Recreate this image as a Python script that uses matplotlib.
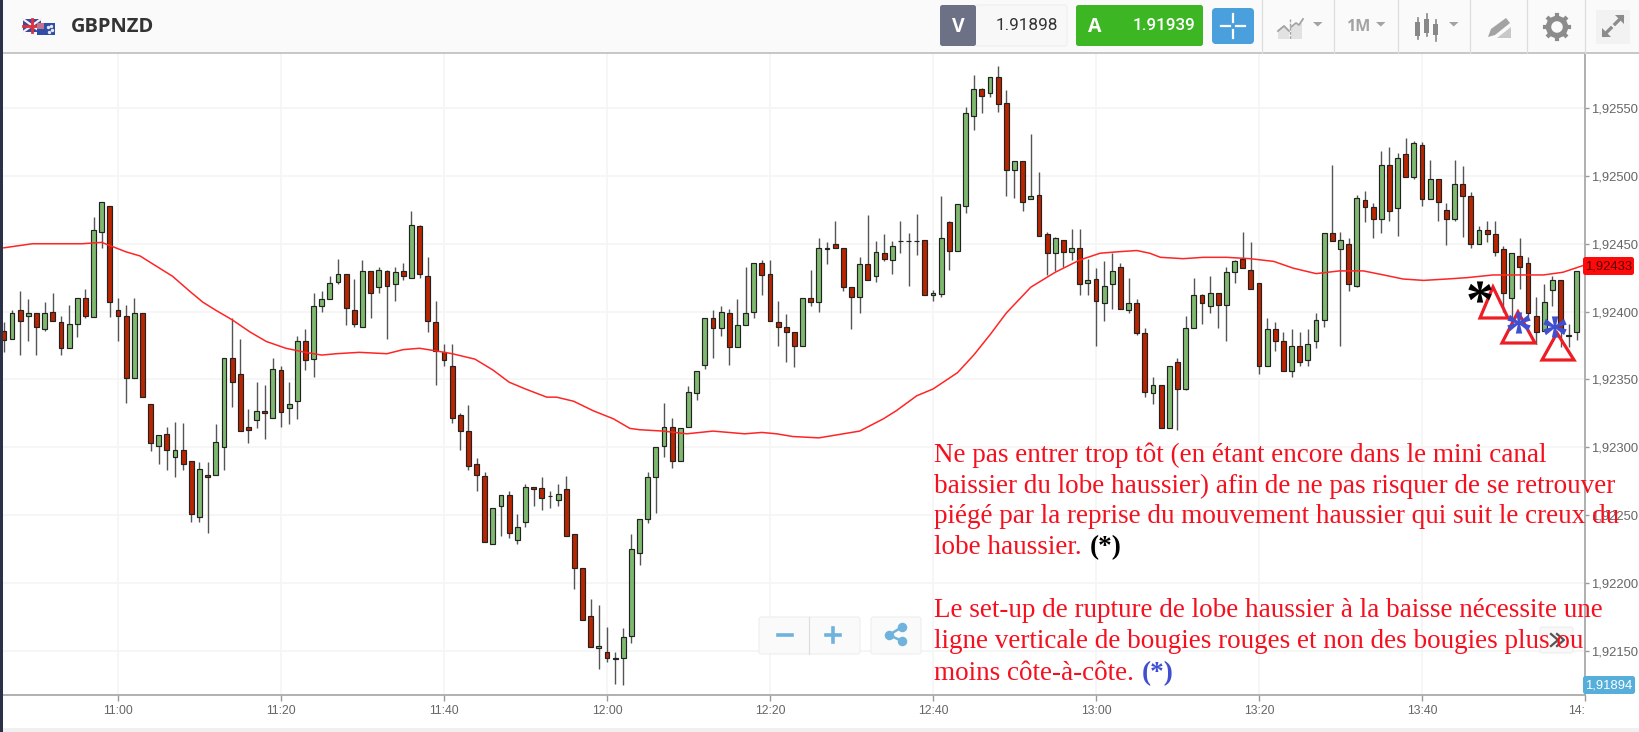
import numpy as np
import matplotlib
matplotlib.use('Agg')
import matplotlib.pyplot as plt
from matplotlib.patches import Rectangle, Polygon, Circle, FancyBboxPatch, PathPatch
from matplotlib.textpath import TextPath
from matplotlib.font_manager import FontProperties
from matplotlib.transforms import Affine2D

# candles: one per minute, minutes counted from 11:00, values in points above 1.92000
first_minute = -14
opens = [386,380,401,397,399,387,400,392,373,391,410,396,459,478,
         401,397,351,399,332,301,310,293,298,290,249,280,280,300,366,354,315,320,327,322,357,329,334,378,365,404,
         409,422,428,401,389,430,418,430,420,430,425,463,426,392,370,360,324,312,288,279,229,257,265,232,245,271,270,264,261,269,
         236,211,176,152,149,145,145,161,222,247,278,301,315,290,315,340,361,395,388,399,374,390,400,436,428,392,389,385,375,410,
         407,446,450,447,418,411,435,426,443,438,452,452,452,453,412,413,466,445,478,544,
         564,561,573,554,504,511,483,486,457,443,453,444,447,421,424,406,420,433,401,406,
         384,340,346,314,363,343,388,412,404,414,405,429,439,431,421,360,387,378,356,375,
         364,378,394,458,446,450,419,482,477,468,508,476,516,499,523,483,498,475,468,494,
         485,450,460,457,446,410,441,436,397,386,416,423,382,385]
closes = [379,399,393,399,389,399,393,373,391,410,397,460,481,407,
          397,351,399,337,303,309,298,298,288,251,284,278,304,366,348,312,313,327,325,358,326,332,378,364,404,409,
          421,428,403,391,430,414,431,419,429,426,464,428,393,371,364,322,312,286,280,230,255,265,237,241,271,269,263,264,266,235,
          211,173,153,154,145,144,160,225,247,278,300,315,290,314,341,356,395,388,400,374,390,399,436,427,393,389,385,375,410,407,
          447,447,447,418,411,435,423,444,439,448,452,452,452,412,414,454,445,479,546,564,
          559,573,553,504,511,481,485,456,443,454,444,447,420,423,408,419,430,402,406,384,
          341,346,314,360,343,388,412,406,414,405,429,437,432,417,360,387,378,356,375,363,
          376,394,458,452,453,420,484,477,468,508,474,513,499,524,483,498,481,468,494,485,
          450,460,457,444,414,443,433,399,385,407,423,387,383,430]
highs = [392,401,415,409,399,407,414,397,405,410,417,470,481,478,
         410,405,410,399,332,309,315,319,318,290,289,289,317,366,395,380,328,348,346,366,360,348,382,387,414,415,
         426,439,428,424,438,430,433,431,433,436,474,464,440,408,376,376,325,331,292,282,255,265,268,251,273,271,278,268,273,279,
         236,211,188,184,168,149,167,236,247,282,300,333,322,314,345,356,395,401,404,402,409,433,436,438,438,408,398,385,410,431,
         454,451,467,447,418,440,471,452,457,452,467,458,472,453,416,485,467,479,551,574,
         565,573,581,563,511,511,531,503,459,455,453,461,461,439,432,437,443,436,425,409,
         388,352,346,360,366,397,425,413,426,414,433,438,459,451,421,395,392,385,387,385,
         387,399,458,508,459,454,486,489,480,518,521,517,528,526,525,512,498,480,512,507,
         488,463,467,467,448,443,454,440,411,420,426,423,391,430]
lows = [370,380,368,378,368,386,393,368,373,381,395,396,447,396,
        378,333,351,337,297,288,283,278,283,245,245,237,280,283,330,312,303,314,306,322,315,317,321,357,352,400,
        409,420,390,389,389,395,414,380,408,423,425,425,385,346,360,318,298,283,268,230,229,235,233,229,241,257,254,255,257,235,
        196,173,153,137,142,126,125,156,213,244,252,293,285,290,315,335,358,366,382,361,374,390,395,412,393,375,363,359,375,404,
        400,435,447,415,387,399,423,422,437,428,443,419,442,412,408,411,431,445,473,534,
        546,558,547,485,484,474,483,456,427,430,433,438,412,412,375,393,402,402,399,383,
        337,332,314,314,313,342,388,391,399,388,378,421,432,417,354,360,371,356,352,360,
        360,373,389,452,375,415,418,466,454,458,467,456,499,498,478,483,467,449,467,455,
        447,450,451,441,400,392,417,396,376,386,404,374,374,379]

# moving average, read at irregular minutes, same units
ma_minutes = [-14,-10.5,-8,-4.4,-2,1,2.7,4.3,6.7,8.8,10.4,12,14,16.2,18.2,20.6,23,25,26.8,29.6,33,35,37,
              39.1,41,43.8,46,48,50,52.6,53.8,55.9,58.3,60.8,62.8,64,66.9,69.8,73,76.9,79,80.8,82.8,86,
              91,93.9,95.5,98,100,103,105,107,109,112,115,118,120.5,122.5,125,126.6,127.9,130.7,133.2,136,
              138.9,141.8,144.2,147,149.9,152.8,155.3,157.7,160.2,163,165.5,168.7,172,174.9,177.3,179.8]
ma_values = [447,450,450,450,451,444,441,435,426,415,407,401,394,385,378,373,370,368,369,370,369,372,373,
             371,369,365,357,348,343,337,337,334,327,321,314,313,312,310,312,310,311,310,308,307,
             312,321,327,338,343,355,368,383,399,418,429,438,443,444,445,443,440,439,440,440,
             439,437,432,428,430,430,427,424,423,424,425,427,427,427,429,434]

price_ticks = [150,200,250,300,350,400,450,500,550]
time_ticks = [0,20,40,60,80,100,120,140,160,180]
time_labels = ['11:00','11:20','11:40','12:00','12:20','12:40','13:00','13:20','13:40','14:']

para1 = ['Ne pas entrer trop tôt (en étant encore dans le mini canal',
         'baissier du lobe haussier) afin de ne pas risquer de se retrouver',
         'piégé par la reprise du mouvement haussier qui suit le creux du',
         'lobe haussier. ']
para2 = ['Le set-up de rupture de lobe haussier à la baisse nécessite une',
         'ligne verticale de bougies rouges et non des bougies plus ou',
         'moins côte-à-côte. ']

W, H = 1640, 732
plt.rcParams['font.family'] = ['Liberation Sans', 'DejaVu Sans']
fig = plt.figure(figsize=(W / 100, H / 100), dpi=100)
fig.patch.set_facecolor('white')

ax = fig.add_axes([3 / W, (H - 695) / H, (1585 - 3) / W, (695 - 53) / H])
to_price = lambda pts: 1.92 + np.array(pts) / 1e5
minutes = np.arange(first_minute, first_minute + len(opens))
o, c, hi, lo = to_price(opens), to_price(closes), to_price(highs), to_price(lows)

ax.vlines(minutes, lo, hi, color='#555555', lw=1.0, zorder=3)
up = c >= o
ax.bar(minutes[up], (c - o)[up], bottom=o[up], width=0.6, color='#7fb96f', edgecolor='#222222', lw=0.85, zorder=4)
ax.bar(minutes[~up], (c - o)[~up], bottom=o[~up], width=0.6, color='#b82500', edgecolor='#222222', lw=0.85, zorder=4)
ax.plot(ma_minutes, to_price(ma_values), color='#ff2525', lw=1.1, zorder=5)

ax.set_xlim(-14.11, 180)
ax.set_ylim(1.921176, 1.925905)
ax.set_xticks(time_ticks)
ax.set_xticklabels(time_labels)
ax.get_xticklabels()[-1].set_ha('right')
ax.set_yticks(to_price(price_ticks))
ax.set_yticklabels([('%.5f' % v).replace('.', ',') for v in to_price(price_ticks)])
ax.yaxis.tick_right()
ax.tick_params(axis='x', length=4.5, width=1, color='#999999', labelcolor='#666666', labelsize=8.8, pad=2.8)
ax.tick_params(axis='y', length=3, width=1, color='#999999', labelcolor='#666666', labelsize=9.4, pad=1.5)
ax.grid(True, color='#f5f5f5', lw=1.2, zorder=0)
ax.set_axisbelow(True)
for side in ['top', 'left']:
    ax.spines[side].set_visible(False)
for side in ['right', 'bottom']:
    ax.spines[side].set_color('#aaaaaa')
    ax.spines[side].set_linewidth(1.3)

# page furniture and hand-drawn notes, in screen pixels
ov = fig.add_axes([0, 0, 1, 1], zorder=10)
ov.set_xlim(0, W)
ov.set_ylim(H, 0)
ov.axis('off')
ov.patch.set_alpha(0)


def box(x0, y0, x1, y1, fc, ec='none', lw=0, z=1):
    ov.add_patch(Rectangle((x0, y0), x1 - x0, y1 - y0, fc=fc, ec=ec, lw=lw, zorder=z))


def rbox(x0, y0, x1, y1, fc, ec='none', lw=0, z=1, r=2.5):
    ov.add_patch(FancyBboxPatch((x0 + r, y0 + r), x1 - x0 - 2 * r, y1 - y0 - 2 * r, boxstyle='round,pad=%s' % r,
                                fc=fc, ec=ec, lw=lw, zorder=z))


def glyph(s, x, y, size, color, z=8):
    fp = FontProperties(family='Liberation Serif', weight='bold')
    tp = TextPath((0, 0), s, size=size, prop=fp)
    bb = tp.get_extents()
    tr = Affine2D().translate(-(bb.x0 + bb.x1) / 2, -(bb.y0 + bb.y1) / 2).scale(1, -1).translate(x, y)
    ov.add_patch(PathPatch(tp, fc=color, ec='none', transform=tr + ov.transData, zorder=z))


box(0, 0, W, 53, '#fafafa')
ov.plot([3, W], [53, 53], color='#bdbdbd', lw=1.2, zorder=2)
box(0, 0, 2.7, H, '#2b3146', z=3)
box(3, 728, W, H, '#f0f0f0')

# flags
box(23, 19, 41, 32, '#3b4a9a', z=2)
ov.plot([23, 41], [19, 32], color='#f4f4f4', lw=1.6, zorder=3)
ov.plot([23, 41], [32, 19], color='#f4f4f4', lw=1.6, zorder=3)
ov.plot([32, 32], [19, 32], color='#e0303a', lw=2, zorder=3)
ov.plot([23, 41], [25.5, 25.5], color='#e0303a', lw=2, zorder=3)
box(37, 23, 55, 35, '#2f4ea8', z=4)
box(37, 23, 44, 29, '#c4708f', z=5)
ov.scatter([48, 51, 52, 49], [27, 26, 30, 32], s=2, color='#e8e8f0', zorder=5)
ov.text(71, 27, 'GBPNZD', family='Open Sans', weight='bold', fontsize=14.5, color='#333333', va='center', zorder=5)

# bid / ask boxes
rbox(975, 5, 1067, 46, '#f8f8f8', ec='#eeeeee', lw=0.8, z=2)
rbox(940, 5, 976, 46, '#6c7186', z=3)
ov.text(958, 27, 'V', color='white', weight='bold', fontsize=14, ha='center', va='center', zorder=4, family='Open Sans')
ov.text(1027, 26, '1.91898', color='#333333', fontsize=12.3, ha='center', va='center', zorder=4, family='Roboto')
rbox(1076, 5, 1203, 46, '#3db623', z=3)
ov.text(1095, 27, 'A', color='white', weight='bold', fontsize=14, ha='center', va='center', zorder=4, family='Open Sans')
ov.text(1164, 26, '1.91939', color='white', weight='medium', fontsize=12.3, ha='center', va='center', zorder=4, family='Roboto')
rbox(1212, 8, 1254, 44, '#4a9fdd', z=3, r=4)
for seg in [([1221, 1230], [26, 26]), ([1236, 1245], [26, 26]), ([1233, 1233], [14, 22]), ([1233, 1233], [30, 38])]:
    ov.plot(seg[0], seg[1], color='white', lw=1.6, zorder=4)

# toolbar
for sx in [1262, 1334, 1398, 1470, 1527, 1585]:
    ov.plot([sx, sx], [0, 53], color='#dddddd', lw=0.9, zorder=2)
gray = '#a3a3a3'
for tx in [1313, 1376, 1449]:
    ov.add_patch(Polygon([(tx, 22), (tx + 9.5, 22), (tx + 4.75, 26.5)], fc=gray, zorder=3))
ov.add_patch(Polygon([(1278, 39), (1278, 30), (1284, 25), (1289, 30), (1289, 39)], fc='#e2e2e2', zorder=3))
ov.add_patch(Polygon([(1291, 39), (1291, 27), (1302, 23), (1302, 39)], fc='#e2e2e2', zorder=3))
ov.plot([1278, 1284, 1289], [31, 26, 31], color=gray, lw=1.3, zorder=4)
ov.plot([1291, 1296, 1299, 1303], [27, 23, 25, 19], color=gray, lw=1.3, zorder=4)
ov.plot([1290, 1290], [19, 39], color=gray, lw=1, ls=(0, (2, 1)), zorder=4)
ov.text(1358, 27, '1M', color=gray, fontsize=11.5, weight='bold', ha='center', va='center', zorder=3, family='Open Sans')
for cx, ct, cb, wt, wb in [(1418, 22, 36, 18, 39), (1427, 19, 33, 14, 36), (1436, 24, 35, 20, 41)]:
    ov.plot([cx, cx], [wt, wb], color='#888888', lw=1.2, zorder=3)
    box(cx - 2.5, ct, cx + 2.5, cb, '#888888', z=3)
ov.add_patch(Polygon([(1488, 37), (1491, 29), (1506, 18), (1510, 23), (1495, 35)], fc=gray, zorder=3))
ov.add_patch(Polygon([(1497, 38), (1511, 27), (1511, 38)], fc='#c8c8c8', zorder=3))
ov.add_patch(Circle((1557, 27), 8.5, fc='none', ec='#8c8c8c', lw=3.8, zorder=3))
for a in np.arange(0, 360, 45):
    xa, ya = np.cos(np.radians(a)), np.sin(np.radians(a))
    ov.plot([1557 + 8 * xa, 1557 + 12 * xa], [27 + 8 * ya, 27 + 12 * ya], color='#8c8c8c', lw=3, zorder=3)
box(1596, 10, 1630, 44, '#f2f2f2', z=2)
ov.plot([1604, 1611], [35, 28], color='#8c8c8c', lw=2.4, zorder=3)
ov.plot([1615, 1622], [24, 17], color='#8c8c8c', lw=2.4, zorder=3)
ov.add_patch(Polygon([(1602, 37), (1602, 28), (1611, 37)], fc='#8c8c8c', zorder=3))
ov.add_patch(Polygon([(1624, 15), (1624, 24), (1615, 15)], fc='#8c8c8c', zorder=3))

# zoom and share buttons
rbox(759, 617, 860, 654, '#fafafa', ec='#eeeeee', lw=0.8, z=2)
rbox(871, 617, 921, 654, '#fafafa', ec='#eeeeee', lw=0.8, z=2)
ov.plot([809, 809], [617, 654], color='#dddddd', lw=0.8, zorder=3)
ov.plot([778, 792], [635, 635], color='#6fb3dd', lw=2.6, zorder=3)
ov.plot([826, 840], [635, 635], color='#6fb3dd', lw=2.6, zorder=3)
ov.plot([833, 833], [628, 642], color='#6fb3dd', lw=2.6, zorder=3)
ov.plot([902, 889, 902], [627, 635, 641], color='#6fb3dd', lw=1.8, zorder=3)
ov.scatter([902, 889, 902], [627, 635, 641], s=34, color='#6fb3dd', zorder=3)
rbox(1540, 627, 1573, 653, '#f8f8f8', ec='#eeeeee', lw=0.8, z=2)
ov.plot([1551, 1558, 1551], [634, 640, 646], color='#555555', lw=1.6, zorder=3)
ov.plot([1557, 1564, 1557], [634, 640, 646], color='#555555', lw=1.6, zorder=3)

# price tags
rbox(1583, 257, 1634, 275, '#ff0a0a', z=3)
ov.text(1608.5, 266.5, '1,92433', color='#5a0000', fontsize=9.4, ha='center', va='center', zorder=4)
rbox(1583, 676, 1635, 694, '#56aedb', z=3)
ov.text(1609, 685.5, '1,91894', color='white', fontsize=9.4, ha='center', va='center', zorder=4)

# triangles and stars on the last candles
for tri in [[(1493, 287), (1480, 318), (1508, 318)], [(1518, 312), (1502, 343), (1535, 343)], [(1557, 333), (1542, 360), (1574, 360)]]:
    ov.add_patch(Polygon(tri, fc='none', ec='#ee1c25', lw=2.3, zorder=7, joinstyle='miter'))
glyph('*', 1480, 292, 56, 'black')
glyph('*', 1519, 323, 56, '#3f4fd0')
glyph('*', 1555, 327, 56, '#3f4fd0')

# comment text
red = '#f5101f'
serif = ['Liberation Serif', 'DejaVu Serif']
fs = 19.5
ends = []
for txt, yb in zip(para1 + para2, [462, 493, 523, 554, 617, 648, 680]):
    ends.append(ov.text(934, yb, txt, color=red, fontsize=fs, family=serif, va='baseline', zorder=9))
fig.canvas.draw()
rend = fig.canvas.get_renderer()
inv = ov.transData.inverted()
x_black = inv.transform(ends[3].get_window_extent(rend).get_points())[1][0]
x_blue = inv.transform(ends[6].get_window_extent(rend).get_points())[1][0]
ov.text(x_black + 1, 554, '(*)', color='black', weight='bold', fontsize=fs, family=serif, va='baseline', zorder=9)
ov.text(x_blue + 1, 680, '(*)', color='#3f4fd0', weight='bold', fontsize=fs, family=serif, va='baseline', zorder=9)

fig.savefig('out.png', dpi=100)
